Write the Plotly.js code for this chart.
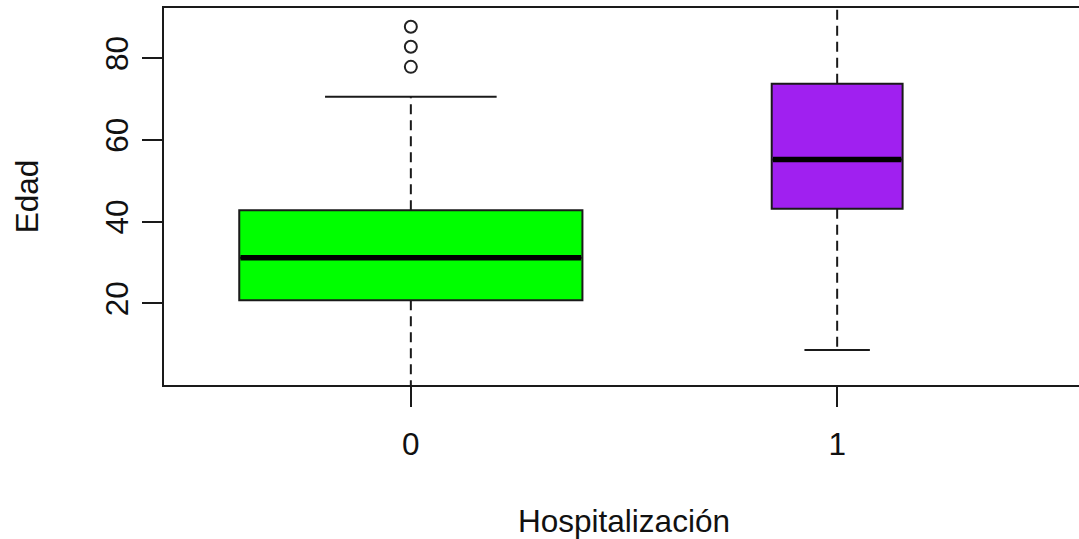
<!DOCTYPE html>
<html>
<head>
<meta charset="utf-8">
<script src="https://cdn.plot.ly/plotly-3.0.1.min.js"></script>
<style>
html, body { margin: 0; padding: 0; overflow: hidden; background: #fff; }
#chart { width: 1090px; height: 539px; }
</style>
</head>
<body>
<div id="chart"></div>
<script>
// ---- data ----
const categories = ['0', '1'];
const q1Values = [20.8, 43.2];
const medianValues = [31.2, 55.2];
const q3Values = [42.8, 73.75];
const lowerWhisker = [0, 8.6];
const upperWhisker = [70.6, 95];
const outlierGroup = ['0', '0', '0'];
const outlierValues = [77.9, 82.8, 87.7];
const yTicks = [20, 40, 60, 80];

// ---- style ----
const boxColors = ['#00FF00', '#A020F0'];
const boxWidths = [0.805, 0.307];
const capRatio = 0.5;
const yRange = [0.05, 92.3];
const FONT = 'Liberation Sans, Arial, sans-serif';
const FS = 31.5;
const LINE = '#1a1a1a';

const pos = categories.map((c, i) => i);
const traces = [];

// boxes (whiskers drawn separately as dashed lines)
categories.forEach((c, i) => {
  traces.push({
    type: 'box',
    x0: pos[i],
    q1: [q1Values[i]],
    median: [medianValues[i]],
    q3: [q3Values[i]],
    lowerfence: [q1Values[i]],
    upperfence: [q3Values[i]],
    width: boxWidths[i],
    fillcolor: boxColors[i],
    line: { color: LINE, width: 2 },
    whiskerwidth: 0,
    hoverinfo: 'skip',
    showlegend: false
  });
});

// dashed whiskers
const wx = [], wy = [];
categories.forEach((c, i) => {
  wx.push(pos[i], pos[i], null, pos[i], pos[i], null);
  wy.push(q3Values[i], upperWhisker[i], null, q1Values[i], lowerWhisker[i], null);
});
traces.push({
  type: 'scatter', mode: 'lines', x: wx, y: wy,
  line: { color: LINE, width: 2, dash: '10px,6px' },
  hoverinfo: 'skip', showlegend: false
});

// whisker caps (only those inside the visible range)
const cx = [], cy = [];
const inRange = v => v > yRange[0] + 0.5 && v < yRange[1];
categories.forEach((c, i) => {
  const h = boxWidths[i] * capRatio / 2;
  [upperWhisker[i], lowerWhisker[i]].forEach(v => {
    if (inRange(v)) { cx.push(pos[i] - h, pos[i] + h, null); cy.push(v, v, null); }
  });
});
traces.push({
  type: 'scatter', mode: 'lines', x: cx, y: cy,
  line: { color: LINE, width: 2 },
  hoverinfo: 'skip', showlegend: false
});

// thick medians
const mx = [], my = [];
categories.forEach((c, i) => {
  const h = boxWidths[i] / 2;
  mx.push(pos[i] - h + 0.003, pos[i] + h - 0.003, null);
  my.push(medianValues[i], medianValues[i], null);
});
traces.push({
  type: 'scatter', mode: 'lines', x: mx, y: my,
  line: { color: '#000', width: 5.5 },
  hoverinfo: 'skip', showlegend: false
});

// outliers
traces.push({
  type: 'scatter', mode: 'markers',
  x: outlierGroup.map(g => categories.indexOf(g)),
  y: outlierValues,
  marker: { symbol: 'circle-open', size: 12, color: '#222', line: { width: 2, color: '#222' } },
  hoverinfo: 'skip', showlegend: false
});

const layout = {
  width: 1090, height: 539,
  margin: { l: 164, r: 6, t: 8, b: 154 },
  paper_bgcolor: '#fff', plot_bgcolor: '#fff',
  font: { family: FONT, size: FS, color: '#111' },
  showlegend: false,
  xaxis: {
    range: [-0.579, 1.579],
    tickmode: 'array', tickvals: pos, ticktext: categories,
    ticks: 'outside', ticklen: 20, tickwidth: 2, tickcolor: LINE,
    showline: true, mirror: true, linecolor: LINE, linewidth: 2,
    showgrid: false, zeroline: false,
    ticklabelstandoff: 10,
    title: { text: 'Hospitalización', standoff: 52, font: { family: FONT, size: FS, color: '#111' } },
    automargin: false
  },
  yaxis: {
    range: yRange,
    tickmode: 'array', tickvals: yTicks, ticktext: yTicks.map(String),
    tickangle: -90,
    ticks: 'outside', ticklen: 20, tickwidth: 2, tickcolor: LINE,
    showline: true, mirror: true, linecolor: LINE, linewidth: 2,
    showgrid: false, zeroline: false,
    ticklabelstandoff: 1,
    title: { text: 'Edad', standoff: 51, font: { family: FONT, size: FS, color: '#111' } },
    automargin: false
  }
};

Plotly.newPlot('chart', traces, layout, { displayModeBar: false, staticPlot: true });
</script>
</body>
</html>
